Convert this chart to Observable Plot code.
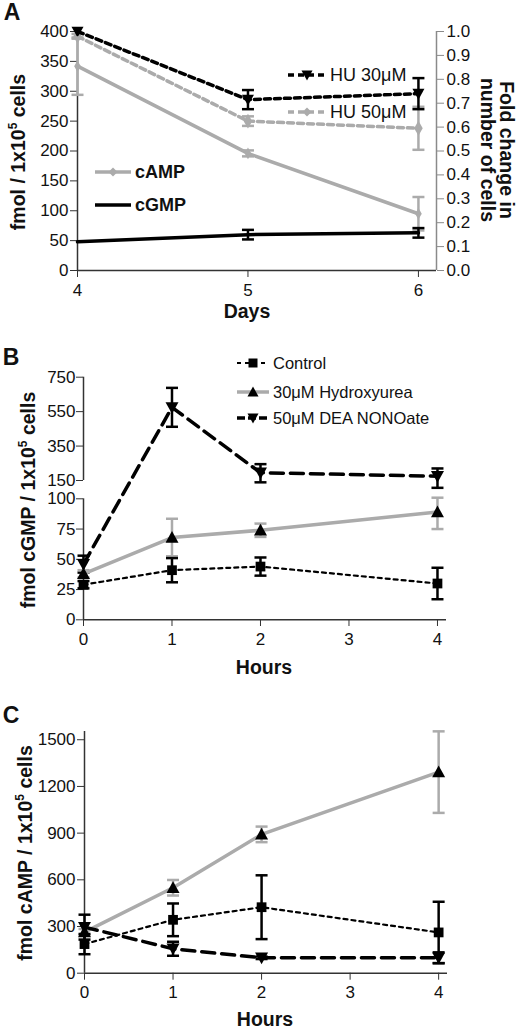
<!DOCTYPE html>
<html>
<head>
<meta charset="utf-8">
<script src="https://cdn.jsdelivr.net/npm/d3@7"></script>
<script src="https://cdn.jsdelivr.net/npm/@observablehq/plot@0.6"></script>
<style>
  body { margin: 0; background: #fff; }
  #fig { position: relative; width: 520px; height: 1029px; overflow: hidden;
         font-family: "Liberation Sans", Arial, sans-serif; color: #111; }
  #fig svg.chart { position: absolute; left: 0; }
  .lbl { position: absolute; white-space: nowrap; font-weight: bold; line-height: 1; }
  .c { transform: translate(-50%, -50%); }
  .rot { transform: translate(-50%, -50%) rotate(-90deg); }
  .rot90 { transform: translate(-50%, -50%) rotate(90deg); text-align: center; line-height: 19px; }
  .panel { font-size: 23px; }
  .title { font-size: 19.5px; }
  .title sup { font-size: 12px; vertical-align: 8px; }
  .row { position: absolute; display: flex; align-items: center; height: 20px; white-space: nowrap; }
  .row svg { margin-right: 4px; }
</style>
</head>
<body>
<div id="fig"></div>
<script>
// ---- panel A : days 4-6, fmol (left) and fold change (right)
const daysA = [4, 5, 6];
const campA = [342, 196, 95];
const campErrA = [48, 5, 28];
const cgmpA = [48, 60, 63];
const cgmpErrA = [0, 8, 8];
const hu30A = [1.0, 0.715, 0.74];
const hu30ErrA = [0, 0.04, 0.065];
const hu50A = [0.98, 0.625, 0.595];
const hu50ErrA = [0.01, 0.02, 0.09];
const ticksA = [0, 50, 100, 150, 200, 250, 300, 350, 400];
const foldTicks = [0, 0.1, 0.2, 0.3, 0.4, 0.5, 0.6, 0.7, 0.8, 0.9, 1.0];

// ---- panels B & C : hours
const hours = [0, 1, 2, 4];
const hourTicks = [0, 1, 2, 3, 4];
// B: cGMP
const ctrlB = [29, 41, 44, 30];
const ctrlErrB = [3, 10, 7.5, 13];
const huB = [38, 68, 74, 89];
const huErrB = [3, 15.5, 5.5, 14];
const deaB = [46, 575, 195, 175];
const deaErrB = [7, 113, 50, 45];
const ticksB = [0, 25, 50, 75, 100, 150, 350, 550, 750];
// C: cAMP
const ctrlC = [187, 343, 424, 262];
const ctrlErrC = [65, 105, 205, 197];
const huC = [264, 549, 892, 1292];
const huErrC = [20, 50, 50, 262];
const deaC = [296, 157, 99, 99];
const deaErrC = [80, 45, 8, 35];
const ticksC = [0, 300, 600, 900, 1200, 1500];

const gray = "#ababab";
const axisCol = "#333";
const font = "'Liberation Sans', Arial, sans-serif";
const tickFont = 17;
const fig = document.getElementById("fig");

// symbols
const cap = {draw(ctx, size) { const w = Math.sqrt(size / Math.PI); ctx.moveTo(-w, 0); ctx.lineTo(w, 0); }};
const triUp = {draw(ctx, size) { const r = Math.sqrt(size / Math.PI); ctx.moveTo(-r, r * 0.8); ctx.lineTo(r, r * 0.8); ctx.lineTo(0, -r); ctx.closePath(); }};
const triDown = {draw(ctx, size) { const r = Math.sqrt(size / Math.PI); ctx.moveTo(-r, -r * 0.8); ctx.lineTo(r, -r * 0.8); ctx.lineTo(0, r); ctx.closePath(); }};

function rows(xs, ys, errs, k = 1) {
  return xs.map((x, i) => ({x, y: ys[i] * k, lo: (ys[i] - errs[i]) * k, hi: (ys[i] + errs[i]) * k}));
}

function series(data, o) {
  const bars = data.filter(d => d.hi > d.lo);
  const err = {x: "x", stroke: o.errColor, strokeWidth: 2.5, fill: "none"};
  return [
    Plot.line(data, {x: "x", y: "y", stroke: o.color, strokeWidth: o.width, strokeDasharray: o.dash}),
    Plot.ruleX(bars, {x: "x", y1: "lo", y2: "hi", stroke: o.errColor, strokeWidth: 2.5}),
    Plot.dot(bars, {...err, y: "lo", symbol: cap, r: 6}),
    Plot.dot(bars, {...err, y: "hi", symbol: cap, r: 6}),
    o.symbol ? Plot.dot(data, {x: "x", y: "y", symbol: o.symbol, r: o.r, fill: o.fill, stroke: "none"}) : null
  ];
}

const plain = d => String(d);
const baseStyle = {fontFamily: font, fontSize: tickFont + "px", background: "none", color: "#111", overflow: "visible"};

function place(svg, top) {
  svg.classList.add("chart");
  svg.style.top = top + "px";
  fig.append(svg);
}

// ---------- A
const endA = 6.106;
const plotA = Plot.plot({
  width: 520, height: 320,
  marginTop: 31, marginBottom: 50, marginLeft: 77, marginRight: 84,
  style: baseStyle,
  x: {domain: [4, endA]},
  y: {domain: [0, 400]},
  marks: [
    Plot.ruleY([0], {stroke: axisCol, strokeWidth: 1.5}),
    Plot.ruleX([4], {stroke: axisCol, strokeWidth: 1.5}),
    Plot.ruleX([endA], {stroke: "#8a8a8a", strokeWidth: 1.5}),
    Plot.axisX({ticks: daysA, tickFormat: plain, tickSize: 7, tickPadding: 6, label: null, stroke: axisCol, fontSize: tickFont}),
    Plot.axisY({ticks: ticksA, tickFormat: plain, tickSize: 7, tickPadding: 2, label: null, stroke: axisCol, fontSize: tickFont}),
    Plot.axisY({anchor: "right", ticks: foldTicks.map(v => v * 400), tickFormat: d => (d / 400).toFixed(1),
      tickSize: 7, tickPadding: 3, label: null, stroke: "#8a8a8a", fontSize: tickFont}),
    ...series(rows(daysA, hu50A, hu50ErrA, 400), {color: gray, width: 3.5, dash: "6,4", errColor: gray, symbol: "diamond", r: 4.5, fill: gray}),
    ...series(rows(daysA, hu30A, hu30ErrA, 400), {color: "#000", width: 3.5, dash: "6,4", errColor: "#000", symbol: triDown, r: 6, fill: "#000"}),
    ...series(rows(daysA, campA, campErrA), {color: gray, width: 3.5, errColor: gray, symbol: "diamond", r: 3.5, fill: gray}),
    ...series(rows(daysA, cgmpA, cgmpErrA), {color: "#000", width: 3.5, errColor: "#000"})
  ]
});
place(plotA, 0);

// ---------- B (broken y axis)
const endB = 4.102;
const seriesStyles = {
  ctrl: {color: "#000", width: 2.2, dash: "4,4", errColor: "#000", symbol: "square", r: 5.5, fill: "#000"},
  hu: {color: gray, width: 3.5, errColor: gray, symbol: triUp, r: 6.5, fill: "#000"},
  dea: {color: "#000", width: 3.5, dash: "13,7", errColor: "#000", symbol: triDown, r: 6.5, fill: "#000"}
};
const plotB = Plot.plot({
  width: 520, height: 360,
  marginTop: 57, marginBottom: 61, marginLeft: 83, marginRight: 74,
  style: baseStyle,
  x: {domain: [0, endB]},
  y: {type: "linear", domain: [0, 100, 150, 750], range: [299.3, 178.3, 160, 56.7]},
  marks: [
    Plot.ruleY([0], {stroke: axisCol, strokeWidth: 1.5}),
    Plot.ruleX([{y1: 0, y2: 100}, {y1: 150, y2: 750}], {x: () => 0, y1: "y1", y2: "y2", stroke: axisCol, strokeWidth: 1.5}),
    Plot.axisX({ticks: hourTicks, tickFormat: plain, tickSize: 7, tickPadding: 6, label: null, stroke: axisCol, fontSize: tickFont}),
    Plot.axisY({ticks: ticksB, tickFormat: plain, tickSize: 7, tickPadding: 1, label: null, stroke: axisCol, fontSize: tickFont}),
    ...series(rows(hours, deaB, deaErrB), seriesStyles.dea),
    ...series(rows(hours, huB, huErrB), seriesStyles.hu),
    ...series(rows(hours, ctrlB, ctrlErrB), seriesStyles.ctrl)
  ]
});
place(plotB, 320);

// ---------- C
const plotC = Plot.plot({
  width: 520, height: 349,
  marginTop: 51, marginBottom: 56.3, marginLeft: 84, marginRight: 73,
  style: baseStyle,
  x: {domain: [0, 4.1]},
  y: {domain: [0, 1553]},
  marks: [
    Plot.ruleY([0], {stroke: axisCol, strokeWidth: 1.5}),
    Plot.ruleX([0], {stroke: axisCol, strokeWidth: 1.5}),
    Plot.axisX({ticks: hourTicks, tickFormat: plain, tickSize: 7, tickPadding: 6, label: null, stroke: axisCol, fontSize: tickFont}),
    Plot.axisY({ticks: ticksC, tickFormat: plain, tickSize: 7, tickPadding: 2, label: null, stroke: axisCol, fontSize: tickFont}),
    ...series(rows(hours, huC, huErrC), seriesStyles.hu),
    ...series(rows(hours, ctrlC, ctrlErrC), seriesStyles.ctrl),
    ...series(rows(hours, deaC, deaErrC), seriesStyles.dea)
  ]
});
place(plotC, 680);

// ---------- text labels
function label(html, cls, x, y) {
  const d = document.createElement("div");
  d.className = "lbl " + cls;
  d.style.left = x + "px";
  d.style.top = y + "px";
  d.innerHTML = html;
  fig.append(d);
}
label("A", "panel c", 12, 12);
label("B", "panel c", 11, 357);
label("C", "panel c", 11, 715);
label("fmol / 1x10<sup>5</sup> cells", "title rot", 18, 152);
label("Fold change in<br>number of cells", "title rot90", 497, 150);
label("Days", "title c", 247, 312);
label("fmol cGMP / 1x10<sup>5</sup> cells", "title rot", 28, 500);
label("Hours", "title c", 264, 668);
label("fmol cAMP / 1x10<sup>5</sup> cells", "title rot", 25, 853);
label("Hours", "title c", 265, 1020);

// ---------- legends
const markerPath = {
  square: "M-4.5,-4.5h9v9h-9Z",
  triUp: "M0,-5.5L5.5,4.5L-5.5,4.5Z",
  triDown: "M-5.5,-4.5L5.5,-4.5L0,5.5Z",
  diamond: "M0,-4.5L4.5,0L0,4.5L-4.5,0Z"
};
function legendRow(text, x, y, w, o, textCss) {
  const d = document.createElement("div");
  d.className = "row";
  d.style.left = x + "px";
  d.style.top = (y - 10) + "px";
  const m = o.marker ? `<path transform="translate(${w / 2},10)" d="${markerPath[o.marker]}" fill="${o.markerFill}"/>` : "";
  d.innerHTML = `<svg width="${w}" height="20"><line x1="0" x2="${w}" y1="10" y2="10" stroke="${o.color}" stroke-width="${o.width}" ${o.dash ? `stroke-dasharray="${o.dash}"` : ""}/>${m}</svg><span style="${textCss}">${text}</span>`;
  fig.append(d);
}
const hudCss = "font-size:18px;";
legendRow("HU 30μM", 288, 75, 38, {color: "#000", width: 3.5, dash: "6,4", marker: "triDown", markerFill: "#000"}, hudCss);
legendRow("HU 50μM", 288, 112, 38, {color: gray, width: 3.5, dash: "6,4", marker: "diamond", markerFill: gray}, hudCss);
legendRow("cAMP", 95, 172, 36, {color: gray, width: 3.5, marker: "diamond", markerFill: gray}, "font-size:18px;font-weight:bold;");
legendRow("cGMP", 95, 205, 36, {color: "#000", width: 3.5}, "font-size:18px;font-weight:bold;");
const legCss = "font-size:16.5px;";
legendRow("Control", 237, 363, 32, {color: "#000", width: 2.2, dash: "4,4", marker: "square", markerFill: "#000"}, legCss);
legendRow("30μM Hydroxyurea", 237, 392, 32, {color: gray, width: 3.5, marker: "triUp", markerFill: "#000"}, legCss);
legendRow("50μM DEA NONOate", 237, 418, 32, {color: "#000", width: 3.5, dash: "8,3", marker: "triDown", markerFill: "#000"}, legCss);
</script>
</body>
</html>
